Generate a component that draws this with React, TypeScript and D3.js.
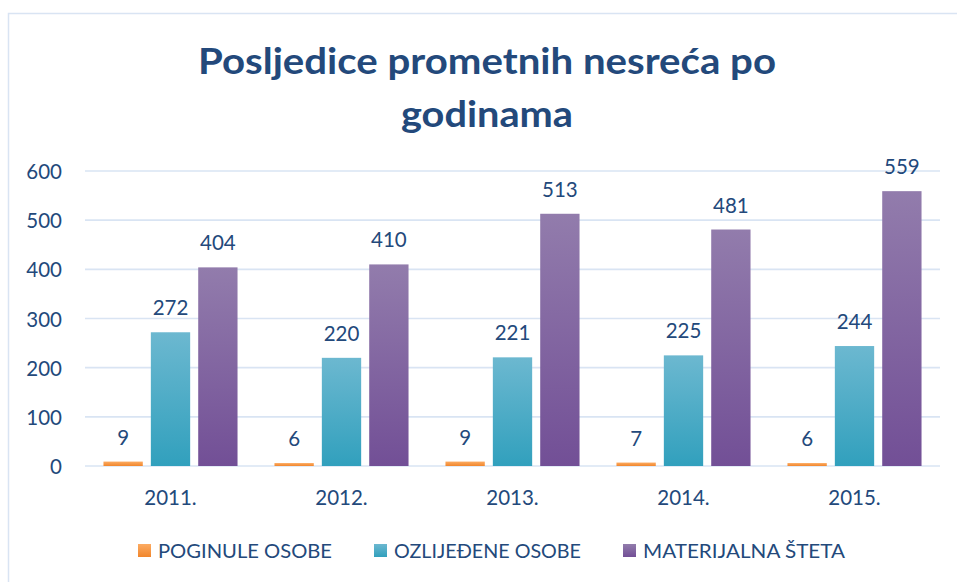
import React from "react";
import * as d3 from "d3";

const categories = ["2011.", "2012.", "2013.", "2014.", "2015."];
const seriesNames = ["POGINULE OSOBE", "OZLIJEĐENE OSOBE", "MATERIJALNA ŠTETA"];
const poginule = [9, 6, 9, 7, 6];
const ozlijedene = [272, 220, 221, 225, 244];
const materijalna = [404, 410, 513, 481, 559];
const yTicks = [0, 100, 200, 300, 400, 500, 600];
const titleLines = ["Posljedice prometnih nesreća po", "godinama"];

const seriesValues = [poginule, ozlijedene, materijalna];
const gradients = [
  ["#fcab62", "#f1862c"],
  ["#6cb8d0", "#31a0bd"],
  ["#927cac", "#724f96"],
];
const textColor = "#23497b";
const gridColor = "#d9e4f3";
const font = "Lato, 'Open Sans', sans-serif";

export default function App() {
  const W = 957, H = 582;
  const left = 85, right = 940, top = 171, bottom = 466;

  const x0 = d3.scaleBand<string>().domain(categories).range([left, right]).paddingInner(0.216).paddingOuter(0.108);
  const x1 = d3.scaleBand<string>().domain(seriesNames).range([0, x0.bandwidth()]).paddingInner(0.17).paddingOuter(0);
  const y = d3.scaleLinear().domain([0, 600]).range([bottom, top]);

  const legendWidths = [174, 187, 202];
  const legendStart = 138;
  const legendItems: { mx: number; tx: number; w: number }[] = [];
  let cx = legendStart;
  legendWidths.forEach((w) => {
    legendItems.push({ mx: cx, tx: cx + 20, w });
    cx += 20 + w + 42;
  });

  return (
    <svg width={W} height={H} style={{ position: "absolute", left: 0, top: 0, background: "#fff" }} fontFamily={font}>
      <defs>
        {gradients.map((g, i) => (
          <linearGradient key={i} id={`grad${i}`} x1="0" y1="0" x2="0" y2="1">
            <stop offset="0%" stopColor={g[0]} />
            <stop offset="100%" stopColor={g[1]} />
          </linearGradient>
        ))}
      </defs>
      <rect x={8.5} y={13.5} width={1200} height={1200} fill="#fff" stroke={gridColor} strokeWidth={1.5} />
      {titleLines.map((t, i) => (
        <text key={i} x={487} y={i === 0 ? 74 : 127} textAnchor="middle" fontSize={37} fontWeight={700} fill={textColor}
          textLength={i === 0 ? 578 : 172} lengthAdjust="spacingAndGlyphs">{t}</text>
      ))}
      {yTicks.map((t) => (
        <g key={t}>
          <line x1={left} x2={right} y1={y(t)} y2={y(t)} stroke={gridColor} strokeWidth={1.6} />
          <text x={62} y={y(t) + 8} textAnchor="end" fontSize={20.5} fill={textColor}>{t}</text>
        </g>
      ))}
      {categories.map((c, ci) => (
        <g key={c} transform={`translate(${x0(c)},0)`}>
          {seriesNames.map((s, si) => {
            const v = seriesValues[si][ci];
            const bx = x1(s)!;
            return (
              <g key={s}>
                <rect x={bx} y={y(v)} width={x1.bandwidth()} height={bottom - y(v)} fill={`url(#grad${si})`} />
                <text x={bx + x1.bandwidth() / 2} y={y(v) - 17} textAnchor="middle" fontSize={20.5} fill={textColor}>{v}</text>
              </g>
            );
          })}
          <text x={x0.bandwidth() / 2} y={505} textAnchor="middle" fontSize={20.5} fill={textColor}>{c}</text>
        </g>
      ))}
      {legendItems.map((it, i) => (
        <g key={i}>
          <rect x={it.mx} y={544} width={13} height={13} fill={`url(#grad${i})`} />
          <text x={it.tx} y={558} fontSize={20} fill={textColor} textLength={it.w} lengthAdjust="spacingAndGlyphs">{seriesNames[i]}</text>
        </g>
      ))}
    </svg>
  );
}
